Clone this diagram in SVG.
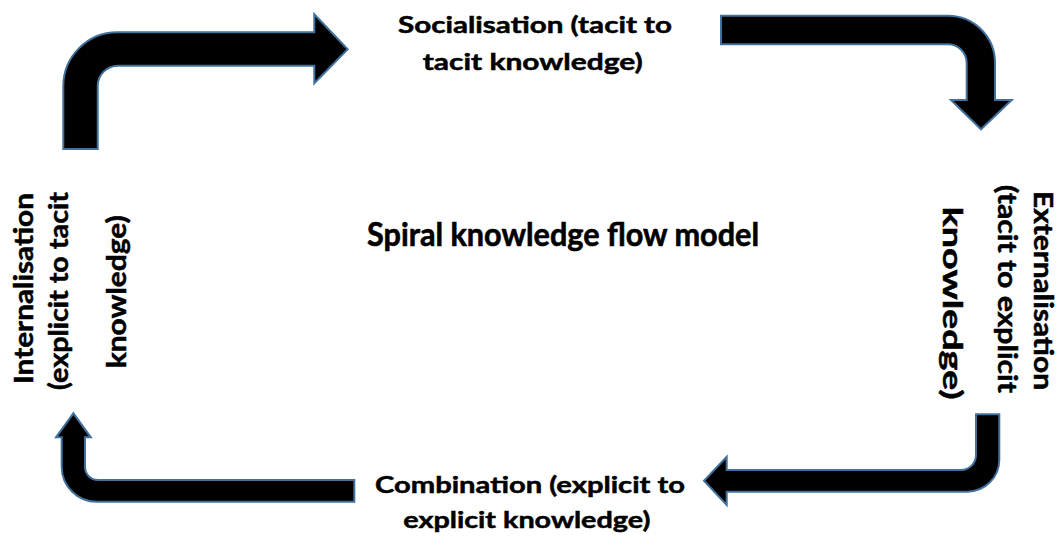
<svg xmlns="http://www.w3.org/2000/svg" width="1059" height="538" viewBox="0 0 1059 538">
  <style>
    .arrow { fill: #000000; stroke: #41719C; stroke-width: 2; stroke-linejoin: miter; }
    .lbl { font-family: Lato, "Open Sans", "Liberation Sans", sans-serif; font-weight: bold; fill: #000000; stroke: #000000; stroke-width: 0.5; }
    .h { font-size: 23px; }
    .v { font-size: 26px; }
    .title { font-size: 32px; stroke-width: 0.6; }
  </style>
  <rect width="1059" height="538" fill="#ffffff"/>

  <!-- bent block arrows that run round the cycle -->
  <g id="connectors">
    <path id="arrow-internal-to-social" class="arrow"
          d="M63.3,149 L63.3,87 A54,54 0 0 1 117.3,32.3 L314.3,32.3 L314.3,14.3 L347.7,49.3 L314.3,83.3 L314.3,65.7 L118,65.7 A20.3,20.3 0 0 0 97.7,86 L97.7,149 Z"/>
    <path id="arrow-social-to-external" class="arrow"
          d="M721,15.7 L948,15.7 A47,47 0 0 1 995,62.7 L995,100 L1011.7,100 L981,129.3 L951,100 L966.7,100 L966.7,63 A18.7,18.7 0 0 0 948,44.3 L721,44.3 Z"/>
    <path id="arrow-external-to-combination" class="arrow"
          d="M976,414.3 L999.3,414.3 L999.3,459.7 A32,32 0 0 1 967.3,491.7 L726.7,491.7 L726.7,505 L704,480.8 L726.7,456.7 L726.7,470 L961,470 A15,15 0 0 0 976,455 Z"/>
    <path id="arrow-combination-to-internal" class="arrow"
          d="M354.3,480 L354.3,501.7 L96.7,501.7 A35,35 0 0 1 61.7,466.7 L61.7,437.3 L56,437.3 L73.4,413.3 L90.8,437.3 L85,437.3 L85,467 A13,13 0 0 0 98,480 Z"/>
  </g>

  <g id="socialisation">
    <text class="lbl h" x="398" y="33.3" textLength="274" lengthAdjust="spacingAndGlyphs">Socialisation (tacit to</text>
    <text class="lbl h" x="422.7" y="70" textLength="220" lengthAdjust="spacingAndGlyphs">tacit knowledge)</text>
  </g>

  <g id="externalisation">
    <text class="lbl v" transform="translate(1034,191) rotate(90)" textLength="199" lengthAdjust="spacingAndGlyphs">Externalisation</text>
    <text class="lbl v" transform="translate(998.3,185) rotate(90)" textLength="208" lengthAdjust="spacingAndGlyphs">(tacit to explicit</text>
    <text class="lbl v" transform="translate(943.3,206.7) rotate(90)" textLength="193" lengthAdjust="spacingAndGlyphs">knowledge)</text>
  </g>

  <g id="combination">
    <text class="lbl h" x="375" y="493.3" textLength="310" lengthAdjust="spacingAndGlyphs">Combination (explicit to</text>
    <text class="lbl h" x="403.3" y="528.3" textLength="247" lengthAdjust="spacingAndGlyphs">explicit knowledge)</text>
  </g>

  <g id="internalisation">
    <text class="lbl v" transform="translate(33.3,384) rotate(-90)" textLength="191" lengthAdjust="spacingAndGlyphs">Internalisation</text>
    <text class="lbl v" transform="translate(68.3,390) rotate(-90)" textLength="198" lengthAdjust="spacingAndGlyphs">(explicit to tacit</text>
    <text class="lbl v" transform="translate(126,368.3) rotate(-90)" textLength="153" lengthAdjust="spacingAndGlyphs">knowledge)</text>
  </g>

  <g id="model-title">
    <text class="lbl title" x="367" y="246" textLength="392" lengthAdjust="spacingAndGlyphs">Spiral knowledge flow model</text>
  </g>
</svg>
